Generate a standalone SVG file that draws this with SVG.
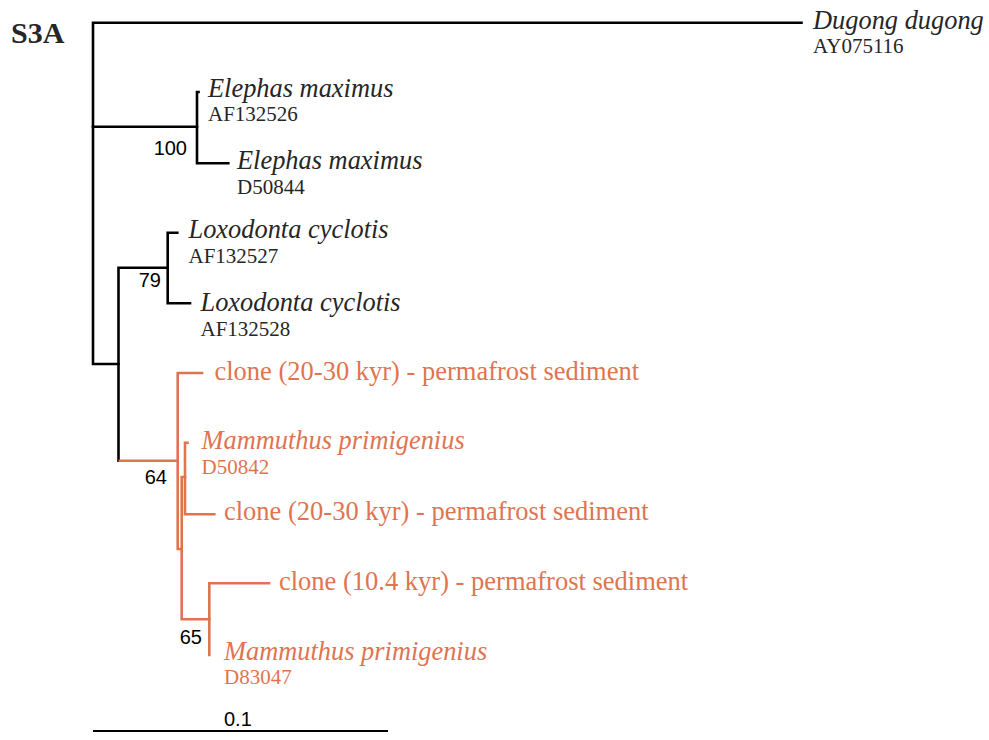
<svg xmlns="http://www.w3.org/2000/svg" width="989" height="740" viewBox="0 0 989 740">
<style>
.bk{fill:none;stroke:#000;stroke-width:2.6;stroke-linecap:square;stroke-linejoin:miter}
.or{fill:none;stroke:#DF7450;stroke-width:2.6;stroke-linecap:square;stroke-linejoin:miter}
.sp{font-family:"Liberation Serif","Times New Roman",serif;font-style:italic;font-size:26.4px}
.ac{font-family:"Liberation Serif","Times New Roman",serif;font-size:21px}
.cl{font-family:"Liberation Serif","Times New Roman",serif;font-size:26.5px}
.dk{fill:#262626}
.o{fill:#DF7450}
.bs{font-family:"Liberation Sans",Arial,sans-serif;font-size:20px;fill:#000;text-anchor:end}
</style>
<rect width="989" height="740" fill="#fff"/>
<text x="11" y="43" font-family="'Liberation Serif','Times New Roman',serif" font-weight="bold" font-size="30" fill="#262626">S3A</text>
<g id="connectors">
<path class="bk" d="M801.5 22.7H93V364H118.5"/>
<path class="bk" d="M93 126.7H197"/>
<path class="bk" d="M198.5 92H197V163.3H228.3"/>
<path class="bk" d="M167.7 267.7H118.5V460.7"/>
<path class="bk" d="M177.3 232.7H167.7V303.3H190"/>
<path class="or" d="M119.8 460.7H177.7"/>
<path class="or" d="M202 373H177.7V549H181.7"/>
<path class="or" d="M185 477H181.7V619.3H209.3"/>
<path class="or" d="M187.5 442.7H185V514.3H214.3"/>
<path class="or" d="M269 583.3H209.3V655"/>
</g>
<g id="dugong"><text class="sp dk" x="813" y="28.5">Dugong dugong</text><text class="ac dk" x="813" y="53">AY075116</text></g>
<g id="elephas1"><text class="sp dk" x="208" y="97">Elephas maximus</text><text class="ac dk" x="208" y="121">AF132526</text></g>
<g id="elephas2"><text class="sp dk" x="237" y="169">Elephas maximus</text><text class="ac dk" x="237" y="194">D50844</text></g>
<g id="loxodonta1"><text class="sp dk" x="188.5" y="238">Loxodonta cyclotis</text><text class="ac dk" x="188.5" y="263">AF132527</text></g>
<g id="loxodonta2"><text class="sp dk" x="200.5" y="311">Loxodonta cyclotis</text><text class="ac dk" x="200.5" y="336">AF132528</text></g>
<g id="clone1"><text class="cl o" x="214.5" y="380">clone (20-30 kyr) - permafrost sediment</text></g>
<g id="mammuthus1"><text class="sp o" x="201.5" y="449">Mammuthus primigenius</text><text class="ac o" x="201.5" y="474">D50842</text></g>
<g id="clone2"><text class="cl o" x="224" y="519.5">clone (20-30 kyr) - permafrost sediment</text></g>
<g id="clone3"><text class="cl o" x="279" y="589.5">clone (10.4 kyr) - permafrost sediment</text></g>
<g id="mammuthus2"><text class="sp o" x="224" y="660">Mammuthus primigenius</text><text class="ac o" x="224" y="684">D83047</text></g>
<g id="bootstrap">
<text class="bs" x="187" y="155">100</text>
<text class="bs" x="161" y="287">79</text>
<text class="bs" x="167" y="484">64</text>
<text class="bs" x="202" y="644">65</text>
</g>
<g id="scalebar">
<path d="M93 731H388" stroke="#000" stroke-width="2" fill="none"/>
<text x="224" y="726" font-family="'Liberation Sans',Arial,sans-serif" font-size="20" fill="#000">0.1</text>
</g>
</svg>
